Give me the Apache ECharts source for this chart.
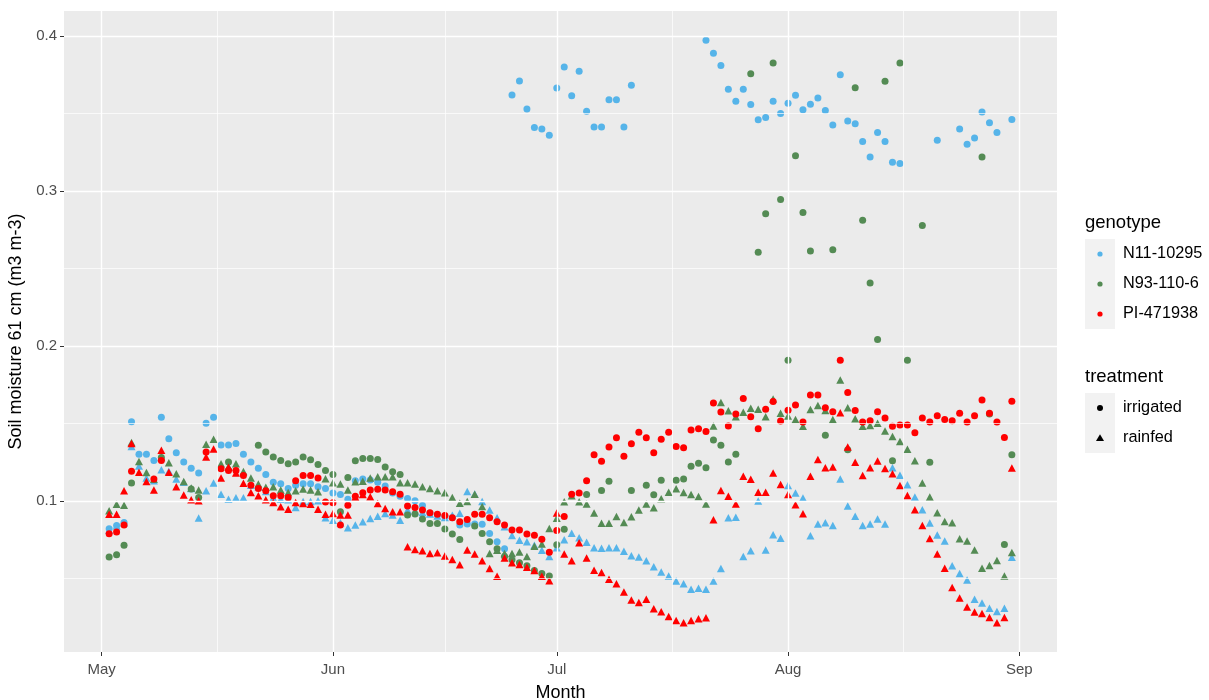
<!DOCTYPE html>
<html>
<head>
<meta charset="utf-8">
<script src="https://cdn.jsdelivr.net/npm/echarts@6/dist/echarts.min.js"></script>
<style>
  html, body { margin: 0; padding: 0; background: #ffffff; }
  #chart { width: 1209px; height: 700px; }
</style>
</head>
<body>
<div id="chart"></div>
<script>
// Daily readings of soil moisture at 61 cm, one value per day from May 2 to Aug 31.
// Each series: May 2-31 (30), Jun 1-30 (30), Jul 1-31 (31), Aug 1-31 (31). null = no reading.
const firstDay = [2021, 4, 2];
const monthTicks = [[2021, 4, 1], [2021, 5, 1], [2021, 6, 1], [2021, 7, 1], [2021, 8, 1]];
const monthLabels = ['May', 'Jun', 'Jul', 'Aug', 'Sep'];
const yTicks = [0.1, 0.2, 0.3, 0.4];
const genotypes = ['N11-10295', 'N93-110-6', 'PI-471938'];
const treatments = ['irrigated', 'rainfed'];

const n11Irrigated = [
  0.082,0.084,0.086,0.151,0.130,0.130,0.126,0.154,0.140,0.131, 0.125,0.121,0.118,0.150,0.154,0.136,0.136,0.137,0.130,0.125, 0.121,0.117,0.112,0.111,0.108,0.110,0.111,0.111,0.109,0.108,
  0.105,0.104,0.101,0.113,0.114,0.1135,0.112,0.1095,0.105,0.103, 0.1015,0.100,0.097,0.092,0.091,0.090,0.089,0.0843,0.085,0.085, 0.0848,0.0789,0.0735,0.0691,0.362,0.371,0.353,0.341,0.340,0.336,
  0.3665,0.380,0.3615,0.3773,0.3515,0.3413,0.3413,0.3589,0.3589,0.3413, 0.3682,null,null,null,null,null,null,null,null,null, 0.3974,0.389,0.381,0.3657,0.358,0.3657,0.3558,0.346,0.3474,0.358, 0.350,
  0.3567,0.3618,0.3525,0.356,0.360,0.3519,0.3426,0.375,0.3452,0.3435, 0.3319,0.322,0.3377,0.3319,0.3186,0.3177,null,null,null,null, 0.3328,null,null,0.340,0.3302,0.3343,0.351,0.3441,0.3377,null, 0.3461
];
const n11Rainfed = [
  0.081,0.0837,0.0859,0.135,0.1224,0.1148,0.113,0.120,0.119,0.1141, 0.112,0.108,0.0889,0.1065,0.1115,0.1043,0.101,0.102,0.102,0.110, 0.109,0.106,0.102,0.101,0.1007,0.0957,0.0996,0.0996,0.100,0.089,
  0.0875,0.0858,0.0826,0.0843,0.0865,0.0886,0.0901,0.0918,0.0908,0.0875, 0.094,0.0934,0.0924,0.0915,0.0902,0.0893,0.0906,0.092,0.106,0.1044, 0.0996,0.0941,0.0891,0.0833,0.0776,0.0746,0.0735,0.0713,0.068,0.0641,
  0.0697,0.0749,0.079,0.0762,0.0732,0.0697,0.0693,0.0697,0.0697,0.0675, 0.0645,0.0638,0.0613,0.0574,0.0541,0.0515,0.0483,0.0465,0.0429,0.0435, 0.0429,0.0483,0.0563,0.089,0.0894,0.0641,0.0677,0.0998,0.0682,0.0781, 0.0758,
  0.1098,0.105,0.1018,0.0774,0.085,0.0858,0.0841,0.114,0.0966,0.090, 0.0841,0.085,0.0882,0.085,0.1214,0.1165,0.1104,0.1024,0.0942,0.0856, 0.078,0.074,0.058,0.053,0.0489,0.0364,0.034,0.0306,0.0286,0.0306, 0.0636
];
const n93Irrigated = [
  0.0637,0.0652,0.0713,0.1115,null,null,null,0.128,null,null, null,0.1076,0.1022,null,null,null,0.125,null,null,null, 0.1359,0.1315,0.1283,0.126,0.1239,0.125,0.1283,0.1265,0.1235,0.1195,
  0.117,0.0929,0.115,0.1258,0.1273,0.1273,0.1267,0.1219,0.1187,0.117, 0.0908,0.0915,0.0882,0.0854,0.0854,0.0818,0.0785,0.075,null,0.0837, 0.0789,0.0735,0.069,0.064,0.062,0.060,0.058,0.055,0.053,0.0515,
  0.0716,0.0816,null,null,0.1041,null,0.1067,0.1126,null,null, 0.1067,null,0.110,0.1039,0.1132,null,0.1132,0.1141,0.1223,0.1242, 0.1214,0.1392,0.1359,0.1251,0.1301,null,0.3757,0.2604,0.2853,0.3826, 0.2945,
  0.1908,0.3227,0.2861,0.2612,null,0.1424,0.2621,null,0.1329,0.3667, 0.2812,0.2406,0.2041,0.3708,0.1258,0.3826,0.1908,null,0.2778,0.1249, null,null,null,null,null,null,0.322,0.156,null,0.0718, 0.1298
];
const n93Rainfed = [
  0.0935,0.0978,0.0972,0.1376,0.1254,0.1183,0.1139,0.128,0.1246,0.1174, 0.1124,0.1083,0.107,0.1365,0.1398,0.1239,0.122,0.1239,0.1189,0.1148, 0.1109,0.1087,0.1091,0.107,0.1054,0.1065,0.1076,0.107,0.1059,0.1142,
  0.1116,0.1108,0.1069,0.1123,0.1127,0.1148,0.1155,0.1155,0.1155,0.1116, 0.1116,0.1108,0.109,0.108,0.1065,0.1052,0.1022,0.0985,0.0996,0.1043, 0.0963,0.0659,0.068,0.0659,0.0659,0.067,0.0641,0.0707,0.0721,0.0821,
  0.0888,0.0994,0.1032,0.0994,0.098,0.0922,0.0855,0.0855,0.0898,0.086, 0.0897,0.094,0.098,0.0955,0.1013,0.1056,0.1078,0.1054,0.1041,0.1028, 0.098,0.1483,0.1634,0.1582,0.1543,0.1571,0.1597,0.1591,0.1543,0.1658, 0.1565,
  0.1547,0.1525,0.1482,0.159,0.1616,0.1583,0.1525,0.178,0.160,0.153, 0.1482,0.1486,0.150,0.145,0.1415,0.1383,0.1333,0.1258,0.1115,0.1024, 0.0923,0.0867,0.0858,0.0755,0.074,0.0683,0.0565,0.0582,0.0614,0.0515, 0.0667
];
const pi471938Irrigated = [
  0.0787,0.0798,0.0843,0.1191,null,null,0.114,0.126,null,null, null,null,null,0.1315,null,0.1207,0.1196,0.1196,0.1163,0.110, 0.108,0.1065,0.1033,0.1033,0.1022,0.113,0.1163,0.1163,0.1148,0.0992,
  0.0987,0.0843,0.0972,0.103,0.1052,0.1069,0.1075,0.1069,0.1058,0.1043, 0.0966,0.0957,0.094,0.0923,0.0914,0.0905,0.089,0.0865,0.088,0.0913, 0.0913,0.0891,0.0865,0.0843,0.0811,0.0811,0.0785,0.0778,0.0752,0.0668,
  0.0808,0.0898,0.1042,0.105,0.113,0.1298,0.1256,0.1348,0.1407,0.1288, 0.1368,0.1442,0.1407,0.131,0.1398,0.1442,0.1351,0.1342,0.1457,0.1465, 0.1448,0.1632,0.1574,0.1483,0.1561,0.166,0.1543,0.1465,0.1591,0.1641, 0.1516,
  0.1585,0.1618,0.1508,0.1683,0.1683,0.160,0.1575,0.1907,0.170,0.1583, 0.1508,0.1517,0.1575,0.1534,0.1482,0.149,0.149,0.144,0.1534,0.1508, 0.1549,0.1525,0.1517,0.1566,0.1508,0.1549,0.165,0.1566,0.1508,0.1409, 0.1642
];
const pi471938Rainfed = [
  0.0913,0.0913,0.1065,0.137,0.1185,0.1124,0.107,0.1326,0.1185,0.1091, 0.1037,0.1007,0.100,0.1283,0.1335,0.1148,0.1217,0.118,0.1113,0.1054, 0.1033,0.1007,0.0989,0.0961,0.0946,0.0989,0.0983,0.0978,0.0946,0.0913,
  0.0918,0.0908,0.0908,0.1025,0.104,0.1026,0.0983,0.0951,0.0929,0.0929, 0.0703,0.0686,0.0677,0.066,0.0665,0.0643,0.0621,0.0587,0.0683,0.0657, 0.0613,0.0563,0.0513,0.063,0.060,0.0588,0.0571,0.055,0.0513,0.0484,
  0.0921,0.0656,0.0613,0.073,0.063,0.0552,0.0537,0.0494,0.0465,0.0411, 0.0359,0.0344,0.0364,0.0303,0.0284,0.0253,0.0227,0.0212,0.0227,0.0238, 0.0245,0.0877,0.1067,0.103,0.098,0.1158,0.1139,0.1056,0.1056,0.118, 0.1106,
  0.104,0.0975,0.0917,0.1158,0.1266,0.1214,0.1219,0.1568,0.1348,0.1249, 0.1163,0.1214,0.1257,0.1208,0.1175,0.1098,0.1035,0.0942,0.0841,0.0757, 0.0657,0.0565,0.044,0.0373,0.0314,0.0282,0.0273,0.0247,0.0213,0.0247, 0.1212
];

const genotypeColors = { 'N11-10295': '#56B4E9', 'N93-110-6': '#548B54', 'PI-471938': '#FF0000' };
const treatmentSymbols = { irrigated: 'circle', rainfed: 'triangle' };
const treatmentSizes = { irrigated: 7, rainfed: [8, 7.5] };

const groups = [
  { genotype: 'N11-10295', treatment: 'irrigated', values: n11Irrigated },
  { genotype: 'N11-10295', treatment: 'rainfed', values: n11Rainfed },
  { genotype: 'N93-110-6', treatment: 'irrigated', values: n93Irrigated },
  { genotype: 'N93-110-6', treatment: 'rainfed', values: n93Rainfed },
  { genotype: 'PI-471938', treatment: 'irrigated', values: pi471938Irrigated },
  { genotype: 'PI-471938', treatment: 'rainfed', values: pi471938Rainfed }
];

const DAY = 86400000;
const utc = (d) => Date.UTC(d[0], d[1], d[2]);
const t0 = utc(firstDay);
const tickTimes = monthTicks.map(utc);

// Axis limits: data range padded by 5% on each side
const allValues = groups.flatMap(g => g.values).filter(v => v !== null);
const yLo = Math.min(...allValues), yHi = Math.max(...allValues);
const yPad = (yHi - yLo) * 0.05;
const nDays = Math.max(...groups.map(g => g.values.length));
const xLo = t0, xHi = t0 + (nDays - 1) * DAY;
const xPad = (xHi - xLo) * 0.05;

const xMinor = tickTimes.slice(1).map((t, i) => (t + tickTimes[i]) / 2);
const yMinor = yTicks.map(v => +(v - 0.05).toFixed(2));

const majorLine = { color: '#FFFFFF', width: 1.4, type: 'solid' };
const minorLine = { color: '#FFFFFF', width: 0.7, type: 'solid' };

const font = '"Liberation Sans", Arial, sans-serif';

const dataSeries = groups.map(g => ({
  name: g.genotype + ' ' + g.treatment,
  type: 'scatter',
  z: 3,
  symbol: treatmentSymbols[g.treatment],
  symbolSize: treatmentSizes[g.treatment],
  itemStyle: { color: genotypeColors[g.genotype], opacity: 1 },
  data: g.values.map((v, i) => [t0 + i * DAY, v]).filter(p => p[1] !== null)
}));

const gridSeries = {
  name: 'grid',
  type: 'scatter',
  z: 1,
  silent: true,
  data: [],
  markLine: {
    silent: true,
    animation: false,
    symbol: ['none', 'none'],
    label: { show: false },
    emphasis: { disabled: true },
    data: [
      ...yMinor.map(v => ({ yAxis: v, lineStyle: minorLine })),
      ...xMinor.map(v => ({ xAxis: v, lineStyle: minorLine })),
      ...yTicks.map(v => ({ yAxis: v, lineStyle: majorLine })),
      ...tickTimes.map(v => ({ xAxis: v, lineStyle: majorLine }))
    ]
  }
};

// Legend: two keyed blocks (colour by genotype, shape by treatment)
const legendX = 1085, keySize = 30, labelX = 1123;
const genotypeTop = 239, treatmentTop = 393;
const legendGraphics = [
  { type: 'rect', shape: { x: legendX, y: genotypeTop, width: keySize, height: keySize * genotypes.length }, style: { fill: '#F2F2F2' }, silent: true },
  { type: 'rect', shape: { x: legendX, y: treatmentTop, width: keySize, height: keySize * treatments.length }, style: { fill: '#F2F2F2' }, silent: true },
  { type: 'text', x: legendX, y: genotypeTop - 16, style: { text: 'genotype', fontSize: 18.5, fill: '#000000', fontFamily: font, verticalAlign: 'middle' }, silent: true },
  { type: 'text', x: legendX, y: treatmentTop - 16, style: { text: 'treatment', fontSize: 18.5, fill: '#000000', fontFamily: font, verticalAlign: 'middle' }, silent: true }
];
genotypes.forEach((name, i) => {
  const cy = genotypeTop + keySize * (i + 0.5);
  legendGraphics.push(
    { type: 'circle', shape: { cx: legendX + keySize / 2, cy, r: 2.6 }, style: { fill: genotypeColors[name] }, silent: true },
    { type: 'text', x: labelX, y: cy, style: { text: name, fontSize: 16.3, fill: '#000000', fontFamily: font, verticalAlign: 'middle' }, silent: true }
  );
});
treatments.forEach((name, i) => {
  const cy = treatmentTop + keySize * (i + 0.5);
  const cx = legendX + keySize / 2;
  const key = treatmentSymbols[name] === 'circle'
    ? { type: 'circle', shape: { cx, cy, r: 3 }, style: { fill: '#000000' }, silent: true }
    : { type: 'polygon', shape: { points: [[cx, cy - 3.8], [cx + 4, cy + 3], [cx - 4, cy + 3]] }, style: { fill: '#000000' }, silent: true };
  legendGraphics.push(
    key,
    { type: 'text', x: labelX, y: cy, style: { text: name, fontSize: 16.3, fill: '#000000', fontFamily: font, verticalAlign: 'middle' }, silent: true }
  );
});

const chart = echarts.init(document.getElementById('chart'), null, { renderer: 'canvas' });
chart.setOption({
  animation: false,
  textStyle: { fontFamily: font },
  grid: {
    left: 64, right: 152, top: 11, bottom: 48,
    outerBoundsMode: 'none',
    containLabel: false,
    show: true, backgroundColor: '#EBEBEB', borderWidth: 0
  },
  xAxis: {
    type: 'value',
    min: xLo - xPad,
    max: xHi + xPad,
    name: 'Month',
    nameLocation: 'middle',
    nameGap: 32,
    nameTextStyle: { fontSize: 18, color: '#000000', fontFamily: font },
    axisLine: { show: false },
    axisTick: { show: true, length: 4, lineStyle: { color: '#333333', width: 1 }, customValues: tickTimes },
    axisLabel: {
      customValues: tickTimes,
      formatter: v => monthLabels[tickTimes.indexOf(v)] || '',
      color: '#4D4D4D', fontSize: 15, margin: 10, fontFamily: font
    },
    splitLine: { show: false }
  },
  yAxis: {
    type: 'value',
    min: yLo - yPad,
    max: yHi + yPad,
    name: 'Soil moisture 61 cm (m3 m-3)',
    nameLocation: 'middle',
    nameGap: 38,
    nameTextStyle: { fontSize: 18, color: '#000000', fontFamily: font },
    axisLine: { show: false },
    axisTick: { show: true, length: 4, lineStyle: { color: '#333333', width: 1 }, customValues: yTicks },
    axisLabel: {
      customValues: yTicks,
      formatter: v => v.toFixed(1),
      color: '#4D4D4D', fontSize: 15, margin: 7, fontFamily: font
    },
    splitLine: { show: false }
  },
  graphic: { elements: legendGraphics },
  series: [gridSeries, ...dataSeries]
});
</script>
</body>
</html>
